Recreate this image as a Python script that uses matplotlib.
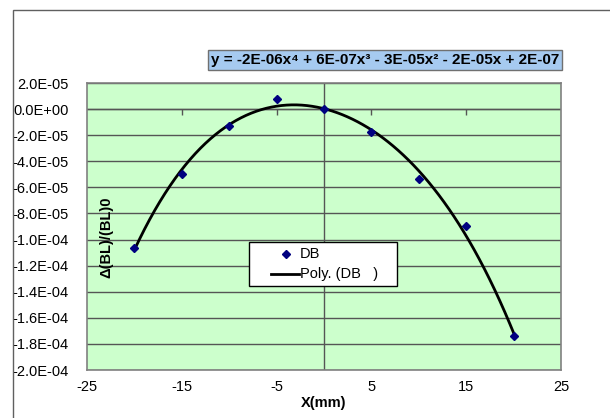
import numpy as np
import matplotlib
matplotlib.use("Agg")
import matplotlib.pyplot as plt
from matplotlib.ticker import FuncFormatter
from matplotlib.patches import Rectangle
from matplotlib.lines import Line2D

plt.rcParams['font.family'] = ['Liberation Sans', 'DejaVu Sans']
plt.rcParams['axes.unicode_minus'] = False

x_mm = [-20, -15, -10, -5, 0, 5, 10, 15, 20]
db = [-1.065e-4, -4.95e-5, -1.3e-5, 7.8e-6, 0.0, -1.75e-5, -5.35e-5, -8.95e-5, -1.74e-4]
x_ticks = [-25, -15, -5, 5, 15, 25]
y_ticks = [2e-5, 0, -2e-5, -4e-5, -6e-5, -8e-5, -1e-4, -1.2e-4, -1.4e-4, -1.6e-4, -1.8e-4, -2e-4]
equation = "y = -2E-06x⁴ + 6E-07x³ - 3E-05x² - 2E-05x + 2E-07"
legend_labels = ['DB', 'Poly. (DB   )']

W, H = 610, 418
def fx(px):
    return px / W
def fy(py):
    return (H - py) / H

fig = plt.figure(figsize=(6.10, 4.18), dpi=100)
fig.patch.set_facecolor('white')
# outer chart border
fig.add_artist(Rectangle((fx(13), -0.1), 1.2, fy(10) + 0.1, transform=fig.transFigure,
                         fill=False, edgecolor='#606060', linewidth=1.0))

ax = fig.add_axes([fx(87), fy(370), fx(561) - fx(87), fy(83) - fy(370)])
ax.set_facecolor('#ccffcc')
ax.set_xlim(-25, 25)
ax.set_ylim(-2e-4, 2e-5)
for s in ax.spines.values():
    s.set_color('#808080')
    s.set_linewidth(1.2)

ax.set_yticks(y_ticks)
ax.set_xticks(x_ticks)
ax.yaxis.set_major_formatter(FuncFormatter(
    lambda v, p: ("%.1E" % v) if abs(v) > 1e-12 else "0.0E+00"))
ax.xaxis.set_major_formatter(FuncFormatter(lambda v, p: "%d" % v))
ax.tick_params(axis='both', length=0, labelsize=10.5, colors='black')
ax.tick_params(axis='y', pad=13)
ax.tick_params(axis='x', pad=7)
ax.grid(axis='y', color='#555555', linewidth=1.0)
ax.set_axisbelow(True)

# zero axes
ax.axhline(0, color='#555555', linewidth=1.0, zorder=1.5)
ax.axvline(0, color='#555555', linewidth=1.0, zorder=1.5)
ax.plot(x_ticks[1:-1], [0]*4, linestyle='none', marker=3, markersize=4,
        color='#555555', markeredgewidth=1.0, zorder=1.6)

# polynomial trendline
coef = np.polyfit(x_mm, db, 4)
xs = np.linspace(min(x_mm), max(x_mm), 300)
ax.plot(xs, np.polyval(coef, xs), color='black', linewidth=2.0, zorder=3)
ax.plot(x_mm, db, linestyle='none', marker='D', markersize=4.5, color='#000080', zorder=4)

ax.set_xlabel('X(mm)', fontsize=10.5, fontweight='bold', labelpad=2)

fig.text(fx(106), fy(237), 'Δ(BL)/(BL)0', rotation=90, fontsize=10.5,
         fontweight='bold', ha='center', va='center')

fig.text(fx(385), fy(60), equation, fontsize=11, fontweight='bold',
         ha='center', va='center',
         bbox=dict(boxstyle='square,pad=0.2', facecolor='#a6caf0', edgecolor='#707070', linewidth=1.0))

# legend box
fig.add_artist(Rectangle((fx(249), fy(286)), fx(397) - fx(249), fy(242) - fy(286),
                         transform=fig.transFigure, facecolor='white', edgecolor='black',
                         linewidth=1.0, zorder=10))
fig.add_artist(Line2D([fx(286)], [fy(254)], linestyle='none', marker='D', markersize=4.5,
                      color='#000080', transform=fig.transFigure, zorder=11))
fig.add_artist(Line2D([fx(271), fx(299)], [fy(274), fy(274)], color='black', linewidth=2.0,
                      transform=fig.transFigure, zorder=11))
fig.text(fx(300), fy(254), legend_labels[0], fontsize=10.5, ha='left', va='center', zorder=12)
fig.text(fx(300), fy(274), legend_labels[1], fontsize=10.5, ha='left', va='center', zorder=12)

fig.savefig('out.png', dpi=100)
